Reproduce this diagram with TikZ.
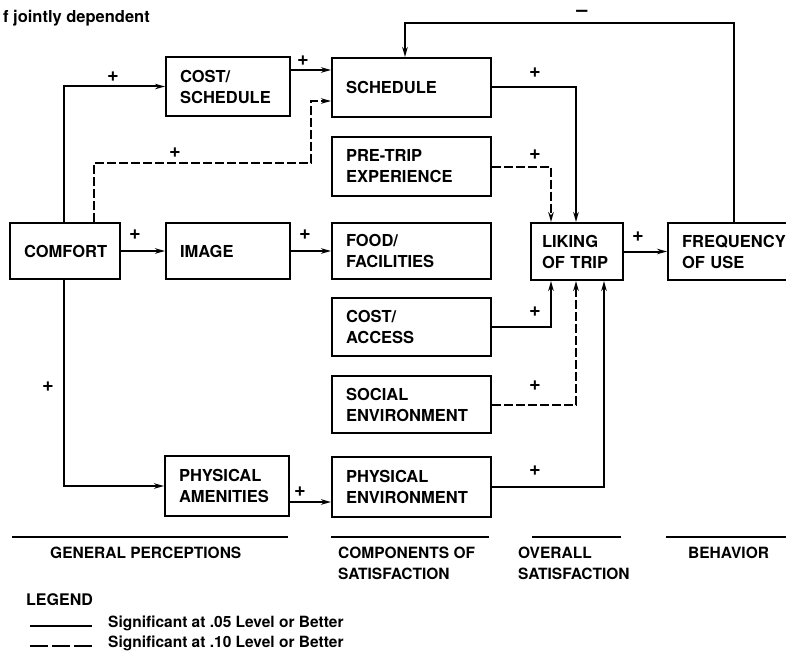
\documentclass[tikz,border=0pt]{standalone}
\usepackage{fontspec}
\setmainfont{TeX Gyre Heros}
\usetikzlibrary{arrows.meta}

\begin{document}
\begin{tikzpicture}[x=1pt, y=-1pt,
    block/.style={draw, line width=2pt, anchor=north west, align=left,
      inner xsep=14pt, inner ysep=0pt, minimum height=58pt,
      font=\fontsize{16.5}{21}\selectfont\bfseries},
    sig/.style={line width=2pt, -{Stealth[length=10pt,width=5.5pt]}},
    insig/.style={sig, dash pattern=on 9pt off 3pt},
    sign/.style={inner sep=0pt, font=\fontsize{20}{20}\selectfont\bfseries},
    group/.style={anchor=north west, align=left, inner sep=0pt,
      font=\fontsize{15.5}{21}\selectfont\bfseries},
    rule/.style={line width=1.8pt},
    legendtext/.style={anchor=base west, inner sep=0pt,
      font=\fontsize{15.5}{18}\selectfont\bfseries}]
    \useasboundingbox (0,0) rectangle (786,650);

    \node[anchor=base east, inner sep=0pt, font=\fontsize{16.5}{20}\selectfont\bfseries] (title) at (150,22.5) {f jointly dependent};

    \node[block, text width=82pt, minimum height=56pt] (comfort) at (9,222) {COMFORT};
    \node[block, text width=96pt, minimum height=59pt] (costsch) at (165,56) {COST/\\SCHEDULE};
    \node[block, text width=96pt, minimum height=56pt] (image) at (165,222) {IMAGE};
    \node[block, text width=96pt, minimum height=60pt] (amenities) at (164,455) {PHYSICAL\\AMENITIES};
    \node[block, text width=131pt, minimum height=59pt] (schedule) at (331,57) {SCHEDULE};
    \node[block, text width=131pt, minimum height=59pt] (pretrip) at (331,136) {PRE-TRIP\\EXPERIENCE};
    \node[block, text width=131pt, minimum height=56pt] (food) at (331,222) {FOOD/\\FACILITIES};
    \node[block, text width=131pt] (access) at (331,297) {COST/\\ACCESS};
    \node[block, text width=131pt, minimum height=57pt] (social) at (331,375) {SOCIAL\\ENVIRONMENT};
    \node[block, text width=131pt, minimum height=60pt] (physenv) at (331,456) {PHYSICAL\\ENVIRONMENT};
    \node[block, text width=70pt, inner xsep=11pt, minimum height=57pt] (liking) at (530,222) {LIKING\\OF TRIP};
    \node[block, text width=122pt, minimum height=57pt] (frequency) at (667,222) {FREQUENCY\\OF USE};

    \coordinate (xl) at (64,0);
    \coordinate (dl) at (94,163);
    \coordinate (dr) at (311,101);
    \coordinate (ya) at (0,70);
    \coordinate (yb) at (0,502);
    \coordinate (xm) at (551,0);
    \coordinate (xn) at (576,0);
    \coordinate (xp) at (604,0);
    \coordinate (fb) at (734,23);
    \coordinate (fs) at (405,23);

    \draw[sig] (comfort.north -| xl) |- (costsch.west);
    \draw[sig] (costsch.east |- ya) -- (schedule.west |- ya);
    \draw[insig] (comfort.north -| dl) -- (dl) -| (dr) -- (schedule.west |- dr);
    \draw[sig] (comfort) -- (image);
    \draw[sig] (image) -- (food);
    \draw[sig] (comfort.south -| xl) |- (amenities.west);
    \draw[sig] (amenities.east |- yb) -- (physenv.west |- yb);
    \draw[sig] (schedule.east) -| (liking.north -| xn);
    \draw[insig] (pretrip.east) -| (liking.north -| xm);
    \draw[sig] (access.east) -| (liking.south -| xm);
    \draw[insig] (social.east) -| (liking.south -| xn);
    \draw[sig] (physenv.east) -| (liking.south -| xp);
    \draw[sig] (liking) -- (frequency);
    \draw[sig] (frequency.north -| fb) |- (fs) -- (schedule.north -| fs);

    \node[sign] (s1) at (113,77) {+};
    \node[sign] (s2) at (303,61) {+};
    \node[sign] (s3) at (175,153) {+};
    \node[sign] (s4) at (135,235) {+};
    \node[sign] (s5) at (305,235) {+};
    \node[sign] (s6) at (48,387) {+};
    \node[sign] (s7) at (300,492) {+};
    \node[sign] (s8) at (535,73) {+};
    \node[sign] (s9) at (535,155) {+};
    \node[sign] (s10) at (535,312) {+};
    \node[sign] (s11) at (535,386) {+};
    \node[sign] (s12) at (535,471) {+};
    \node[sign] (s13) at (638,237) {+};
    \node[sign, anchor=base] (s14) at (582,17) {–};

    \draw[rule] (12,537) -- (288,537);
    \draw[rule] (331,537) -- (489,537);
    \draw[rule] (532,537) -- (621,537);
    \draw[rule] (666,537) -- (786,537);
    \node[group] (general) at (50,547) {GENERAL PERCEPTIONS};
    \node[group] (components) at (338,547) {COMPONENTS OF\\SATISFACTION};
    \node[group] (overall) at (518,547) {OVERALL\\SATISFACTION};
    \node[group] (behavior) at (688,547) {BEHAVIOR};

    \node[legendtext, font=\fontsize{16}{18}\selectfont\bfseries] (legend) at (26,605) {LEGEND};
    \draw[line width=2pt] (30,626) -- (92,626);
    \node[legendtext] (sig05) at (108,627) {Significant at .05 Level or Better};
    \draw[line width=2pt, dash pattern=on 18pt off 4pt] (30,646) -- (92,646);
    \node[legendtext] (sig10) at (108,647) {Significant at .10 Level or Better};
\end{tikzpicture}
\end{document}
